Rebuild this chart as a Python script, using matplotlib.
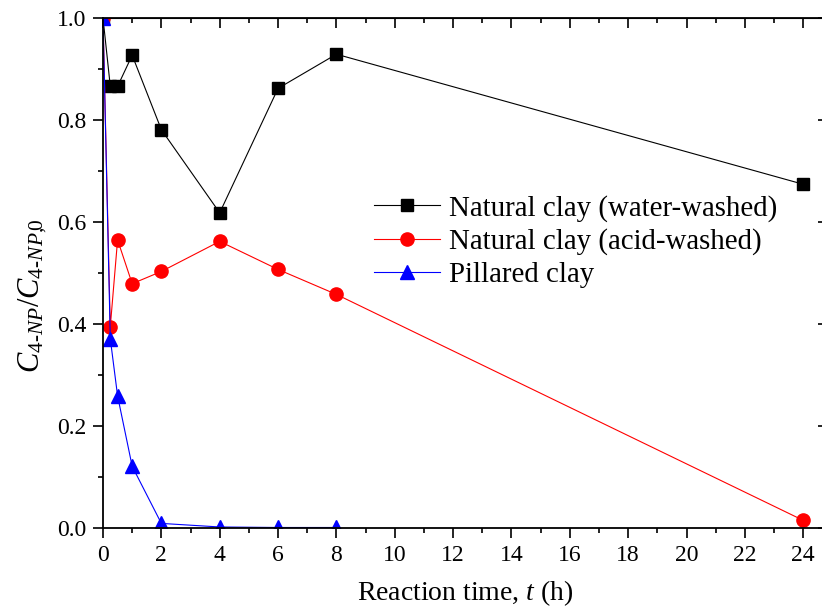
import numpy as np
import matplotlib
matplotlib.use("Agg")
import matplotlib.pyplot as plt
from matplotlib.ticker import MultipleLocator

plt.rcParams['font.family'] = ['Liberation Serif', 'DejaVu Serif']
plt.rcParams['mathtext.fontset'] = 'custom'
plt.rcParams['mathtext.rm'] = 'Liberation Serif'
plt.rcParams['mathtext.it'] = 'Liberation Serif:italic'
plt.rcParams['mathtext.default'] = 'it'

# reaction time (h)
t = [0, 0.25, 0.5, 1, 2, 4, 6, 8, 24]
t_pil = [0, 0.25, 0.5, 1, 2, 4, 6, 8]

# C/C0 values
water_washed = [1.0, 0.866, 0.866, 0.927, 0.781, 0.618, 0.862, 0.929, 0.674]
acid_washed = [1.0, 0.395, 0.565, 0.479, 0.503, 0.562, 0.507, 0.458, 0.015]
pillared = [1.0, 0.371, 0.259, 0.121, 0.009, 0.002, 0.001, 0.001]

labels = ["Natural clay (water-washed)", "Natural clay (acid-washed)", "Pillared clay"]

fig = plt.figure(figsize=(8.22, 6.10), dpi=100)
ax = fig.add_axes([103/822, 82/610, 725/822, 510/610])

ax.plot(t, water_washed, color='black', marker='s', markersize=8.5, linewidth=0.8, label=labels[0])
ax.plot(t, acid_washed, color='red', marker='o', markersize=9.5, linewidth=0.8, label=labels[1])
ax.plot(t_pil, pillared, color='blue', marker='^', markersize=10, linewidth=0.8, label=labels[2])

ax.set_xlim(0, 24.85)
ax.set_ylim(0, 1.0)
ax.xaxis.set_major_locator(MultipleLocator(2))
ax.xaxis.set_minor_locator(MultipleLocator(1))
ax.yaxis.set_major_locator(MultipleLocator(0.2))
ax.yaxis.set_minor_locator(MultipleLocator(0.1))
ax.yaxis.set_major_formatter(plt.FuncFormatter(lambda v, p: f"{v:.1f}"))

ax.tick_params(which='both', direction='out', labelsize=17, width=1.2, pad=5)
ax.tick_params(which='major', length=7)
ax.tick_params(which='minor', length=3.5)
for s in ax.spines.values():
    s.set_linewidth(1.3)

# top and right axes with inward ticks, no labels
top = ax.secondary_xaxis('top')
top.xaxis.set_major_locator(MultipleLocator(2))
top.xaxis.set_minor_locator(MultipleLocator(1))
top.tick_params(which='both', direction='in', labeltop=False, width=1.2)
top.tick_params(which='major', length=7)
top.tick_params(which='minor', length=3.5)
right = ax.secondary_yaxis('right')
right.yaxis.set_major_locator(MultipleLocator(0.2))
right.yaxis.set_minor_locator(MultipleLocator(0.1))
right.tick_params(which='both', direction='in', labelright=False, width=1.2)
right.tick_params(which='major', length=7)
right.tick_params(which='minor', length=3.5)

ax.set_xlabel(r"Reaction time, $t$ (h)", fontsize=20, labelpad=9)
ax.set_ylabel(r"$C_{4\text{-}NP}/C_{4\text{-}NP{,}\!0}$", fontsize=22)
ax.yaxis.set_label_coords(-0.074, 0.455)

ax.legend(loc='upper left', bbox_to_anchor=(374/822, 1 - 195/610), bbox_transform=fig.transFigure,
          frameon=False, fontsize=20.8, handlelength=2.3, handletextpad=0.3, labelspacing=0.22,
          borderaxespad=0, borderpad=0)

fig.savefig("out.png", dpi=100)
